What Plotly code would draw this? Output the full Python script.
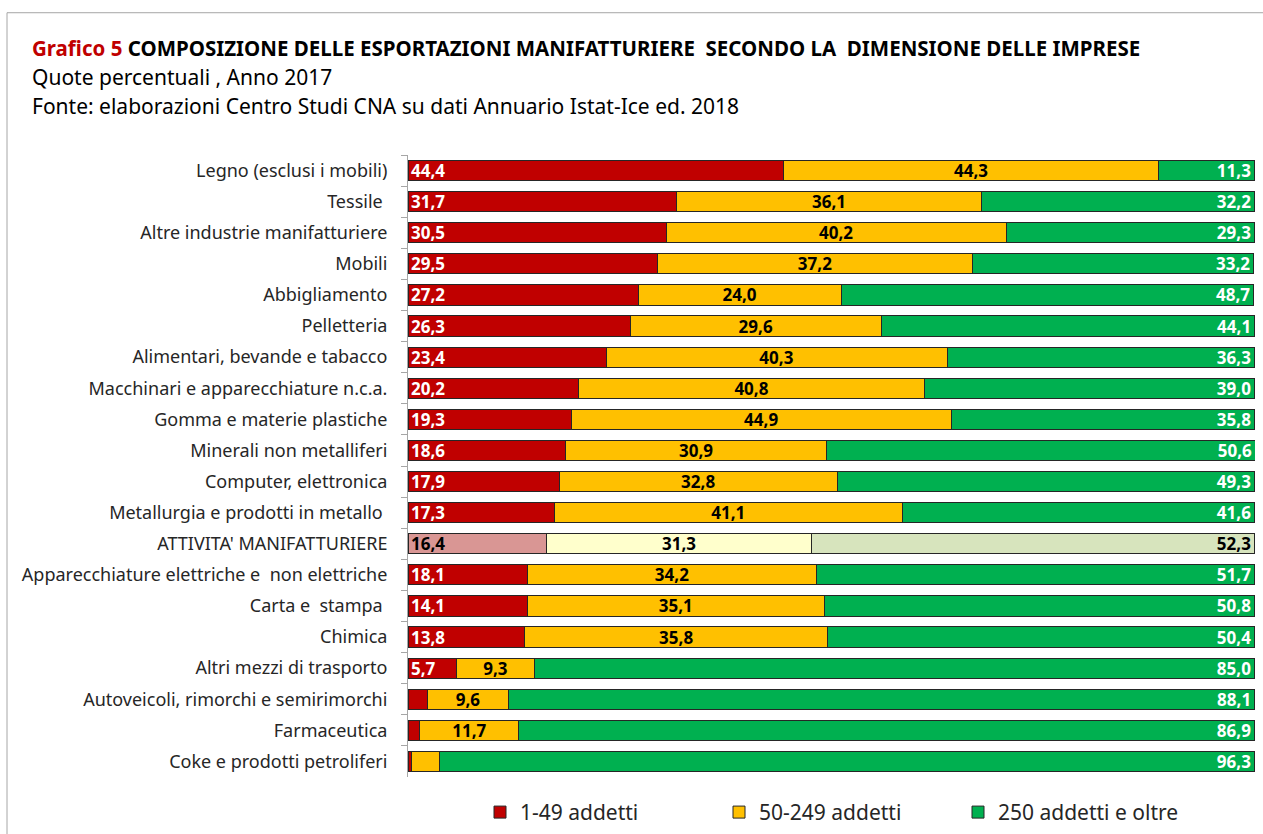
import plotly.graph_objects as go

categories = [
    "Legno (esclusi i mobili)", "Tessile ", "Altre industrie manifatturiere", "Mobili",
    "Abbigliamento", "Pelletteria", "Alimentari, bevande e tabacco",
    "Macchinari e apparecchiature n.c.a.", "Gomma e materie plastiche",
    "Minerali non metalliferi", "Computer, elettronica", "Metallurgia e prodotti in metallo ",
    "ATTIVITA' MANIFATTURIERE", "Apparecchiature elettriche e  non elettriche",
    "Carta e  stampa ", "Chimica", "Altri mezzi di trasporto",
    "Autoveicoli, rimorchi e semirimorchi", "Farmaceutica", "Coke e prodotti petroliferi",
]
# bar lengths as drawn
small = [44.4, 31.7, 30.5, 29.5, 27.2, 26.3, 23.4, 20.2, 19.3, 18.6, 17.9, 17.3,
         16.4, 14.1, 14.1, 13.8, 5.7, 2.3, 1.4, 0.4]
medium = [44.3, 36.1, 40.2, 37.2, 24.0, 29.6, 40.3, 40.8, 44.9, 30.9, 32.8, 41.1,
          31.3, 34.2, 35.1, 35.8, 9.3, 9.6, 11.7, 3.3]
large = [11.3, 32.2, 29.3, 33.2, 48.7, 44.1, 36.3, 39.0, 35.8, 50.6, 49.3, 41.6,
         52.3, 51.7, 50.8, 50.4, 85.0, 88.1, 86.9, 96.3]
# data labels as printed in the chart
small_labels = ["44,4", "31,7", "30,5", "29,5", "27,2", "26,3", "23,4", "20,2", "19,3", "18,6",
                "17,9", "17,3", "16,4", "18,1", "14,1", "13,8", "5,7", "", "", ""]
medium_labels = ["44,3", "36,1", "40,2", "37,2", "24,0", "29,6", "40,3", "40,8", "44,9", "30,9",
                 "32,8", "41,1", "31,3", "34,2", "35,1", "35,8", "9,3", "9,6", "11,7", ""]
large_labels = ["11,3", "32,2", "29,3", "33,2", "48,7", "44,1", "36,3", "39,0", "35,8", "50,6",
                "49,3", "41,6", "52,3", "51,7", "50,8", "50,4", "85,0", "88,1", "86,9", "96,3"]
series_names = ["1-49 addetti", "50-249 addetti", "250 addetti e oltre"]
total_row = "ATTIVITA' MANIFATTURIERE"

W, H = 1263, 834
L, R, T, B = 408, 1255, 154.5, 777.5
FONT = "Noto Sans"


def px(x):
    return (x - L) / (R - L)


def py(y):
    return (B - y) / (B - T)


base_cols = ["#C00000", "#FFC000", "#00B050"]
light_cols = ["#D99694", "#FFFFCC", "#D7E4BD"]
base_text = ["white", "black", "white"]
anchors = ["start", "middle", "end"]

fig = go.Figure()
for i, (name, vals, labs) in enumerate(zip(series_names, [small, medium, large],
                                           [small_labels, medium_labels, large_labels])):
    colors = [light_cols[i] if c == total_row else base_cols[i] for c in categories]
    tcolors = ["black" if c == total_row else base_text[i] for c in categories]
    fig.add_trace(go.Bar(
        y=categories, x=vals, name=name, orientation="h",
        marker=dict(color=colors, line=dict(color="#262626", width=1)),
        text=labs, textposition="inside",
        insidetextanchor=anchors[i], textangle=0,
        textfont=dict(family=FONT, size=17, color=tcolors, weight="bold"),
        cliponaxis=False, constraintext="none",
    ))

fig.update_layout(
    width=W, height=H, barmode="stack", bargap=0.35,
    margin=dict(l=L, r=W - R, t=T, b=H - B, autoexpand=False),
    paper_bgcolor="white", plot_bgcolor="white",
    font=dict(family=FONT, size=18, color="#262626"),
    showlegend=True,
    legend=dict(orientation="h", x=px(480), y=py(813), yanchor="middle", xanchor="left",
                entrywidth=194, entrywidthmode="pixels",
                font=dict(family=FONT, size=21, color="#262626"), traceorder="normal"),
    xaxis=dict(range=[0, 100.1], visible=False, fixedrange=True),
    yaxis=dict(autorange="reversed", showline=True, linecolor="#A6A6A6", linewidth=1,
               ticks="outside", tickson="boundaries", ticklen=6, tickcolor="#A6A6A6",
               tickfont=dict(family=FONT, size=18, color="#262626"), ticklabelstandoff=16,
               showgrid=False, fixedrange=True),
)

fig.add_shape(type="rect", xref="paper", yref="paper",
              x0=px(7), x1=px(1275), y0=py(845), y1=py(12),
              line=dict(color="#A6A6A6", width=1), layer="below")

fig.add_annotation(xref="paper", yref="paper", x=px(30), y=py(47), xanchor="left", yanchor="middle",
                   showarrow=False,
                   text="<span style='color:#C00000'><b>Grafico 5</b></span> <b>COMPOSIZIONE DELLE ESPORTAZIONI MANIFATTURIERE  SECONDO LA  DIMENSIONE DELLE IMPRESE</b>",
                   font=dict(family=FONT, size=20.5, color="black"))
fig.add_annotation(xref="paper", yref="paper", x=px(30), y=py(76), xanchor="left", yanchor="middle",
                   showarrow=False, text="Quote percentuali , Anno 2017",
                   font=dict(family=FONT, size=21, color="black"))
fig.add_annotation(xref="paper", yref="paper", x=px(30), y=py(105), xanchor="left", yanchor="middle",
                   showarrow=False, text="Fonte: elaborazioni Centro Studi CNA su dati Annuario Istat-Ice ed. 2018",
                   font=dict(family=FONT, size=21, color="black"))

fig.write_html("out.html", config={"displayModeBar": False},
               post_script="document.body.style.margin='0';document.body.style.overflow='hidden';")
